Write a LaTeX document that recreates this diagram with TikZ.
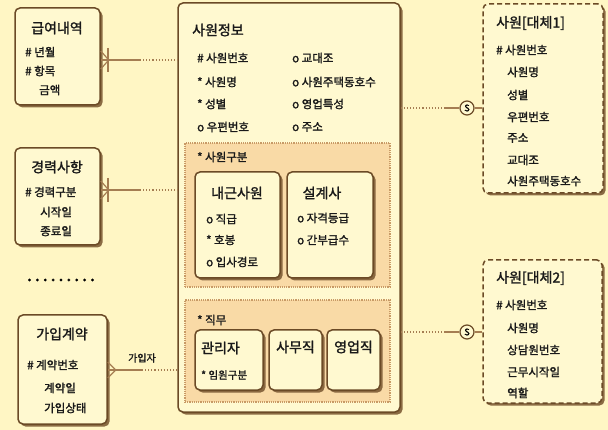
\documentclass[tikz,border=0pt]{standalone}
\usepackage{fontspec}
\setmainfont{Noto Sans CJK KR}[FakeBold=1.6]
\usetikzlibrary{shadows,fit}
\definecolor{bg}{HTML}{FFF6C4}
\definecolor{boxfill}{HTML}{FFF9D0}
\definecolor{brd}{HTML}{6B4A26}
\definecolor{shd}{HTML}{7E5C36}
\definecolor{subfill}{HTML}{F9DAA6}
\definecolor{subbrd}{HTML}{C89A66}
\definecolor{lnk}{HTML}{A57D52}
\tikzset{
  entity/.style={draw=brd, line width=1.5pt, fill=boxfill, rounded corners=5pt, inner sep=0pt,
    drop shadow={shadow xshift=2.5pt, shadow yshift=-2.5pt, fill=shd, opacity=0.9}},
  altbox/.style={entity, dashed, dash pattern=on 5pt off 3pt},
  subbox/.style={draw=subbrd, line width=1.2pt, densely dotted, fill=subfill, inner sep=0pt},
  ttl/.style={inner sep=0pt, font=\fontsize{14}{16}\selectfont, text=black!90},
  itm/.style={inner sep=0pt, anchor=west, font=\fontsize{11.5}{13}\selectfont, text=black!90},
  lbl/.style={inner sep=0pt, font=\fontsize{10}{12}\selectfont, text=black!90},
  solidlink/.style={draw=lnk, line width=1.2pt},
  dotlink/.style={draw=lnk, line width=1.1pt, dotted},
  scircle/.style={draw=brd, circle, line width=1.2pt, fill=boxfill, minimum size=14pt, inner sep=0pt,
    font=\fontsize{9}{10}\selectfont}
}
\begin{document}
\begin{tikzpicture}[x=1pt,y=-1pt]
\fill[bg] (0,0) rectangle (608,430);
\useasboundingbox (0,0) rectangle (608,430);

% ---------- left entities ----------
\node[entity, fit={(15,8) (100,105)}] (geup) {};
\node[ttl] (geupT) at (57,28) {급여내역};
\node[itm] (geup1) at (25,52) {\# 년월};
\node[itm] (geup2) at (25,71) {\# 항목};
\node[itm] (geup3) at (39,90) {금액};

\node[entity, fit={(15,148) (100,245)}] (career) {};
\node[ttl] (careerT) at (57,167) {경력사항};
\node[itm] (career1) at (25,192) {\# 경력구분};
\node[itm] (career2) at (40,212) {시작일};
\node[itm] (career3) at (40,231) {종료일};

\node[inner sep=0pt, font=\bfseries\fontsize{12}{12}\selectfont] (more) at (61,280) {. . . . . . . . .};

\node[entity, fit={(18,315) (107,424)}] (join) {};
\node[ttl] (joinT) at (62,334) {가입계약};
\node[itm] (join1) at (27,365) {\# 계약번호};
\node[itm] (join2) at (44,388) {계약일};
\node[itm] (join3) at (44,408) {가입상태};

% ---------- main entity ----------
\node[entity, fit={(178,3) (400,412)}] (main) {};
\node[ttl, anchor=west] (mainT) at (192,30) {사원정보};
\node[itm] (m1) at (197,58) {\# 사원번호};
\node[itm] (m2) at (197,82) {* 사원명};
\node[itm] (m3) at (197,104) {* 성별};
\node[itm] (m4) at (197,127) {o 우편번호};
\node[itm] (m5) at (292,58) {o 교대조};
\node[itm] (m6) at (292,82) {o 사원주택동호수};
\node[itm] (m7) at (292,104) {o 영업특성};
\node[itm] (m8) at (292,127) {o 주소};

% sub-type group 1
\node[subbox, fit={(185,143) (390,287)}] (grp1) {};
\node[itm] (grp1T) at (197,157) {* 사원구분};
\node[entity, fit={(195,172) (280,278)}] (inner) {};
\node[ttl] (innerT) at (237,193) {내근사원};
\node[itm] (inner1) at (206,219) {o 직급};
\node[itm] (inner2) at (206,240) {* 호봉};
\node[itm] (inner3) at (206,262) {o 입사경로};
\node[entity, fit={(287,172) (373,278)}] (plan) {};
\node[ttl] (planT) at (322,193) {설계사};
\node[itm] (plan1) at (297,218) {o 자격등급};
\node[itm] (plan2) at (297,240) {o 간부급수};

% sub-type group 2
\node[subbox, fit={(185,300) (390,402)}] (grp2) {};
\node[itm] (grp2T) at (197,320) {* 직무};
\node[entity, fit={(195,330) (263,390)}] (mgr) {};
\node[ttl, anchor=west] (mgrT) at (201,348) {관리자};
\node[itm, font=\fontsize{10.5}{12}\selectfont] (mgr1) at (201,375) {* 임원구분};
\node[entity, fit={(269,330) (322,390)}] (office) {};
\node[ttl] (officeT) at (295.5,347) {사무직};
\node[entity, fit={(327,330) (380,390)}] (sales) {};
\node[ttl] (salesT) at (353.5,347) {영업직};

% ---------- alternative entities ----------
\node[altbox, fit={(483,4) (603,193)}] (alt1) {};
\node[ttl, anchor=west] (alt1T) at (496,23) {사원[대체1]};
\node[itm] (a11) at (496,50) {\# 사원번호};
\node[itm] (a12) at (507,72) {사원명};
\node[itm] (a13) at (507,95) {성별};
\node[itm] (a14) at (507,117) {우편번호};
\node[itm] (a15) at (507,138) {주소};
\node[itm] (a16) at (507,160) {교대조};
\node[itm] (a17) at (507,181) {사원주택동호수};

\node[altbox, fit={(483,260) (602,403)}] (alt2) {};
\node[ttl, anchor=west] (alt2T) at (496,278) {사원[대체2]};
\node[itm] (a21) at (496,305) {\# 사원번호};
\node[itm] (a22) at (507,328) {사원명};
\node[itm] (a23) at (507,350) {상담원번호};
\node[itm] (a24) at (507,372) {근무시작일};
\node[itm] (a25) at (507,393) {역할};

% ---------- connectors ----------
% 급여내역
\coordinate (g0) at (geup.east |- 0,60);
\coordinate (gm) at (140,60);
\draw[solidlink] ([yshift=-9pt]g0) -- ++(8,-9) -- ([yshift=9pt]g0);
\draw[solidlink] (108,48) -- (108,72);
\draw[solidlink] (g0) -- (gm);
\draw[dotlink] (gm) -- (main.west |- gm);
% 경력사항
\coordinate (c0) at (career.east |- 0,190);
\coordinate (cm) at (140,190);
\draw[solidlink] ([yshift=-9pt]c0) -- ++(8,-9) -- ([yshift=9pt]c0);
\draw[solidlink] (108,178) -- (108,202);
\draw[solidlink] (c0) -- (cm);
\draw[dotlink] (cm) -- (main.west |- cm);
% 가입계약
\coordinate (j0) at (join.east |- 0,370);
\coordinate (jm) at (142,370);
\draw[solidlink] ([yshift=-8pt]j0) -- ++(8,-8) -- ([yshift=8pt]j0);
\draw[solidlink] (j0) -- (jm);
\draw[dotlink] (jm) -- (main.west |- jm);
\node[lbl] (joinL) at (142,358) {가입자};

% subtype links
\node[scircle] (s1) at (467,108) {S};
\coordinate (s1m) at (444,108);
\draw[dotlink] (main.east |- s1) -- (s1m);
\draw[solidlink] (s1m) -- (s1.west);
\draw[solidlink] (s1.east) -- (alt1.west |- s1);

\node[scircle] (s2) at (467,332) {S};
\coordinate (s2m) at (444,332);
\draw[dotlink] (main.east |- s2) -- (s2m);
\draw[solidlink] (s2m) -- (s2.west);
\draw[solidlink] (s2.east) -- (alt2.west |- s2);
\end{tikzpicture}
\end{document}
